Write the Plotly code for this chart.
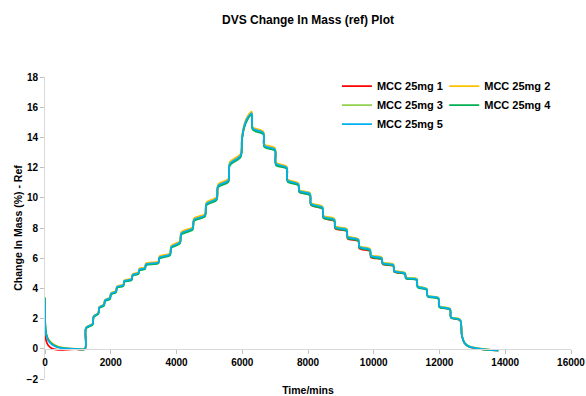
import plotly.graph_objects as go

# Elapsed time (min) shared by all five DVS runs
TIME_MIN = [
    0, 10, 40, 100, 200, 350, 500, 700, 900, 1217,
    1247, 1450, 1480, 1622, 1652, 1795, 1825, 1977, 2007, 2160,
    2190, 2383, 2413, 2636, 2666, 2839, 2869, 3042, 3072, 3448,
    3478, 3802, 3840, 4106, 4146, 4492, 4532, 4867, 4910, 5222,
    5265, 5577, 5620, 5952, 5990, 6060, 6150, 6290, 6320, 6641,
    6671, 6996, 7026, 7351, 7381, 7706, 7736, 8060, 8090, 8440,
    8470, 8800, 8830, 9177, 9207, 9531, 9561, 9886, 9916, 10242,
    10272, 10595, 10625, 10950, 10980, 11306, 11336, 11610, 11640, 11964,
    11994, 12319, 12349, 12624, 12680, 12760, 12900, 13200, 13500, 13790,
]

# Change in mass (% vs reference mass) for each sample
MCC_1 = [
    1.00, 0.80, 0.50, 0.22, 0.04, -0.06, -0.08, -0.05, -0.02, -0.01,
    1.38, 1.64, 2.14, 2.35, 2.74, 2.90, 3.21, 3.35, 3.65, 3.79,
    4.09, 4.21, 4.49, 4.60, 4.89, 5.00, 5.24, 5.33, 5.59, 5.71,
    6.04, 6.24, 6.74, 7.04, 7.64, 7.97, 8.54, 8.84, 9.58, 9.93,
    10.78, 11.13, 12.22, 12.77, 13.87, 14.72, 15.22, 15.57, 14.56, 14.26,
    13.41, 13.16, 12.21, 11.96, 11.10, 10.85, 10.39, 10.18, 9.52, 9.27,
    8.66, 8.46, 7.96, 7.79, 7.30, 7.12, 6.65, 6.46, 6.06, 5.92,
    5.60, 5.49, 5.10, 4.96, 4.67, 4.57, 4.10, 3.93, 3.48, 3.34,
    2.78, 2.61, 2.06, 1.90, 0.88, 0.38, 0.13, 0.00, -0.07, -0.11,
]
MCC_2 = [
    2.60, 1.40, 1.00, 0.66, 0.40, 0.20, 0.09, 0.03, 0.01, 0.00,
    1.41, 1.67, 2.17, 2.38, 2.78, 2.94, 3.25, 3.39, 3.70, 3.84,
    4.14, 4.27, 4.55, 4.66, 4.96, 5.07, 5.31, 5.40, 5.67, 5.79,
    6.12, 6.33, 6.83, 7.14, 7.74, 8.07, 8.64, 8.95, 9.70, 10.05,
    10.90, 11.26, 12.36, 12.92, 14.01, 14.86, 15.36, 15.70, 14.69, 14.39,
    13.54, 13.29, 12.34, 12.08, 11.23, 10.98, 10.52, 10.32, 9.67, 9.42,
    8.82, 8.62, 8.12, 7.95, 7.46, 7.28, 6.81, 6.62, 6.21, 6.06,
    5.73, 5.61, 5.20, 5.05, 4.75, 4.65, 4.16, 3.99, 3.53, 3.39,
    2.83, 2.66, 2.10, 1.94, 0.91, 0.41, 0.16, 0.03, -0.05, -0.09,
]
MCC_3 = [
    3.40, 1.60, 1.00, 0.62, 0.36, 0.16, 0.07, 0.02, 0.00, 0.00,
    1.37, 1.62, 2.12, 2.33, 2.72, 2.88, 3.19, 3.33, 3.63, 3.77,
    4.07, 4.19, 4.47, 4.58, 4.87, 4.98, 5.22, 5.31, 5.57, 5.69,
    6.02, 6.22, 6.72, 7.02, 7.61, 7.94, 8.51, 8.81, 9.55, 9.90,
    10.75, 11.10, 12.19, 12.74, 13.83, 14.68, 15.18, 15.53, 14.57, 14.28,
    13.44, 13.20, 12.26, 12.02, 11.18, 10.93, 10.48, 10.28, 9.63, 9.38,
    8.78, 8.58, 8.08, 7.91, 7.43, 7.25, 6.78, 6.59, 6.18, 6.03,
    5.70, 5.58, 5.18, 5.03, 4.73, 4.63, 4.15, 3.98, 3.53, 3.39,
    2.83, 2.66, 2.11, 1.95, 0.93, 0.42, 0.16, 0.03, -0.05, -0.09,
]
MCC_4 = [
    3.40, 1.55, 0.95, 0.60, 0.34, 0.15, 0.06, 0.01, 0.00, 0.00,
    1.34, 1.59, 2.09, 2.30, 2.69, 2.85, 3.15, 3.29, 3.59, 3.73,
    4.03, 4.15, 4.43, 4.54, 4.83, 4.94, 5.18, 5.27, 5.53, 5.65,
    5.97, 6.18, 6.67, 6.97, 7.56, 7.89, 8.46, 8.76, 9.50, 9.85,
    10.70, 11.05, 12.14, 12.70, 13.79, 14.64, 15.14, 15.50, 14.50, 14.21,
    13.36, 13.11, 12.16, 11.92, 11.07, 10.82, 10.37, 10.17, 9.52, 9.27,
    8.67, 8.48, 7.98, 7.81, 7.33, 7.15, 6.69, 6.50, 6.09, 5.94,
    5.62, 5.50, 5.10, 4.95, 4.65, 4.55, 4.07, 3.90, 3.45, 3.31,
    2.76, 2.59, 2.05, 1.89, 0.87, 0.37, 0.13, 0.00, -0.08, -0.12,
]
MCC_5 = [
    3.30, 1.50, 0.90, 0.55, 0.30, 0.12, 0.05, 0.01, 0.00, 0.00,
    1.40, 1.65, 2.15, 2.36, 2.75, 2.91, 3.22, 3.36, 3.66, 3.80,
    4.10, 4.22, 4.50, 4.61, 4.90, 5.01, 5.25, 5.34, 5.60, 5.72,
    6.05, 6.25, 6.75, 7.05, 7.65, 7.98, 8.55, 8.85, 9.60, 9.95,
    10.80, 11.15, 12.25, 12.80, 13.90, 14.75, 15.25, 15.60, 14.60, 14.30,
    13.45, 13.20, 12.25, 12.00, 11.15, 10.90, 10.45, 10.25, 9.60, 9.35,
    8.75, 8.55, 8.05, 7.88, 7.40, 7.22, 6.75, 6.56, 6.15, 6.00,
    5.67, 5.55, 5.15, 5.00, 4.70, 4.60, 4.12, 3.95, 3.50, 3.36,
    2.80, 2.63, 2.08, 1.92, 0.90, 0.40, 0.15, 0.02, -0.06, -0.10,
]

SERIES_NAMES = ["MCC 25mg 1", "MCC 25mg 2", "MCC 25mg 3", "MCC 25mg 4", "MCC 25mg 5"]
SERIES_VALUES = [MCC_1, MCC_2, MCC_3, MCC_4, MCC_5]
SERIES_COLORS = ["#FF0000", "#FFC000", "#92D050", "#00B050", "#00B0F0"]
# two-column legend: runs 1, 3, 5 on the left, 2 and 4 on the right
SERIES_LEGEND = ["legend", "legend2", "legend", "legend2", "legend"]

FONT = "Liberation Sans, Arial, sans-serif"

fig = go.Figure()
for name, vals, color, leg in zip(SERIES_NAMES, SERIES_VALUES, SERIES_COLORS, SERIES_LEGEND):
    fig.add_trace(go.Scatter(
        x=TIME_MIN, y=vals, name=name, mode="lines",
        line=dict(color=color, width=1.7, shape="spline", smoothing=0.8),
        legend=leg,
    ))

legend_style = dict(
    font=dict(family=FONT, size=11, color="#000000", weight="bold"),
    bgcolor="rgba(0,0,0,0)", borderwidth=0,
    orientation="v", xanchor="left", yanchor="top",
    tracegroupgap=0,
)

fig.update_layout(
    width=586, height=396,
    margin=dict(l=45, r=15, t=77, b=17, autoexpand=False),
    paper_bgcolor="white", plot_bgcolor="white",
    font=dict(family=FONT, color="#000000"),
    title=dict(
        text="DVS Change In Mass (ref) Plot",
        font=dict(family=FONT, size=12, color="#000000", weight="bold"),
        x=0.5, xref="paper", xanchor="center",
        y=1 - 20 / 396, yref="container", yanchor="middle",
    ),
    showlegend=True,
    legend=dict(x=0.555, y=1.018, **legend_style),
    legend2=dict(x=0.759, y=1.018, **legend_style),
    xaxis=dict(
        range=[0, 16000], dtick=2000, tick0=0, tickformat="d",
        showgrid=False, zeroline=False,
        showline=True, linecolor="#D9D9D9", linewidth=1,
        ticks="outside", ticklen=4, tickcolor="#BFBFBF",
        tickfont=dict(family=FONT, size=10, color="#000000", weight="bold"),
        anchor="free", position=0.1,
        title=dict(text="Time/mins", standoff=21,
                   font=dict(family=FONT, size=10.5, color="#000000", weight="bold")),
    ),
    yaxis=dict(
        range=[-2, 18], dtick=2, tick0=0,
        showgrid=False, zeroline=False,
        showline=True, linecolor="#D9D9D9", linewidth=1,
        ticks="outside", ticklen=4, tickcolor="#BFBFBF",
        tickfont=dict(family=FONT, size=10, color="#000000", weight="bold"),
        title=dict(text="Change In Mass (%) - Ref", standoff=1,
                   font=dict(family=FONT, size=10.5, color="#000000", weight="bold")),
    ),
)

fig.write_html("out.html")
